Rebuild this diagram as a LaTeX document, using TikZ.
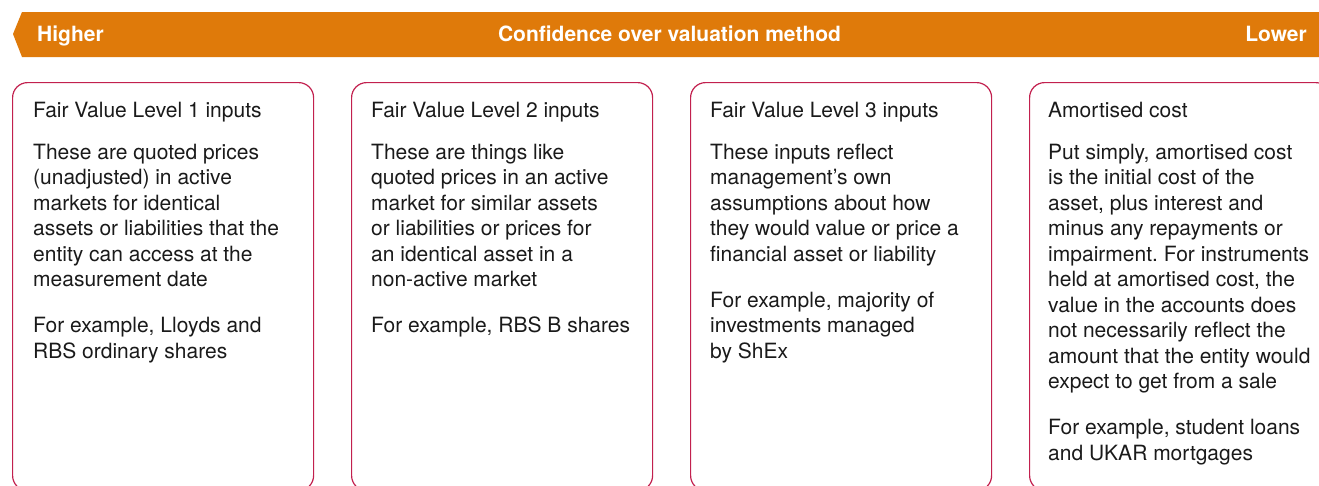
\documentclass[tikz,border=0pt]{standalone}
\usepackage{fontspec}
\setmainfont{TeX Gyre Heros}
\usetikzlibrary{calc}
\frenchspacing
\definecolor{bannerorange}{RGB}{223,122,10}
\definecolor{panelred}{RGB}{194,32,78}
\definecolor{bodyink}{RGB}{26,26,26}
% rows of text with a fixed baseline grid; the box baseline is the first row
\newcommand\textrows[1]{\vtop{\baselineskip=25.5pt\lineskiplimit=-100pt\lineskip=0pt\halign{##\hfil\cr#1\crcr}}}
\newcommand\pgap{\noalign{\vskip20.5pt}}
\begin{document}
\begin{tikzpicture}[x=1pt,y=-1pt,
  panel/.style={draw=panelred,line width=1.2pt,rounded corners=15pt,anchor=north west,
    minimum width=301pt,minimum height=408pt,inner sep=0pt},
  heading/.style={anchor=base west,inner sep=0pt,text=bodyink,font=\fontsize{21}{25.5}\selectfont},
  bodytext/.style={heading},
  bannertext/.style={inner sep=0pt,text=white,font=\bfseries\fontsize{21}{24}\selectfont}]
\useasboundingbox (0,0) rectangle (1319,485);
\clip (0,0) rectangle (1319,485);

% banner with arrow tip on the left
\fill[bannerorange] (13,34) -- (22,12) -- (1340,12) -- (1340,57) -- (22,57) -- cycle;
\node[bannertext,anchor=base west] (hi) at (37,41.5) {Higher};
\node[bannertext,anchor=base] (mid) at (669.5,41.5) {Confidence over valuation method};
\node[bannertext,anchor=base east] (lo) at (1307,41.5) {Lower};

% four panels
\node[panel] (p1) at (12,82) {};
\node[panel] (p2) at (351,82) {};
\node[panel] (p3) at (690,82) {};
\node[panel] (p4) at (1029,82) {};

\node[heading] (t1) at ($(p1.north west)+(21,35)$) {Fair Value Level 1 inputs};
\node[bodytext] (b1) at ($(p1.north west)+(21,77)$) {\textrows{%
These are quoted prices\cr
(unadjusted) in active\cr
markets for identical\cr
assets or liabilities that the\cr
entity can access at the\cr
measurement date\cr\pgap
For example, Lloyds and\cr
RBS ordinary shares}};

\node[heading] (t2) at ($(p2.north west)+(20,35)$) {Fair Value Level 2 inputs};
\node[bodytext] (b2) at ($(p2.north west)+(20,77)$) {\textrows{%
These are things like\cr
quoted prices in an active\cr
market for similar assets\cr
or liabilities or prices for\cr
an identical asset in a\cr
non-active market\cr\pgap
For example, RBS B shares}};

\node[heading] (t3) at ($(p3.north west)+(20,35)$) {Fair Value Level 3 inputs};
\node[bodytext] (b3) at ($(p3.north west)+(20,77)$) {\textrows{%
These inputs reflect\cr
management’s own\cr
assumptions about how\cr
they would value or price a\cr
financial asset or liability\cr\pgap
For example, majority of\cr
investments managed\cr
by ShEx}};

\node[heading] (t4) at ($(p4.north west)+(19,35)$) {Amortised cost};
\node[bodytext] (b4) at ($(p4.north west)+(19,77)$) {\textrows{%
Put simply, amortised cost\cr
is the initial cost of the\cr
asset, plus interest and\cr
minus any repayments or\cr
impairment. For instruments\cr
held at amortised cost, the\cr
value in the accounts does\cr
not necessarily reflect the\cr
amount that the entity would\cr
expect to get from a sale\cr\pgap
For example, student loans\cr
and UKAR mortgages}};
\end{tikzpicture}
\end{document}
